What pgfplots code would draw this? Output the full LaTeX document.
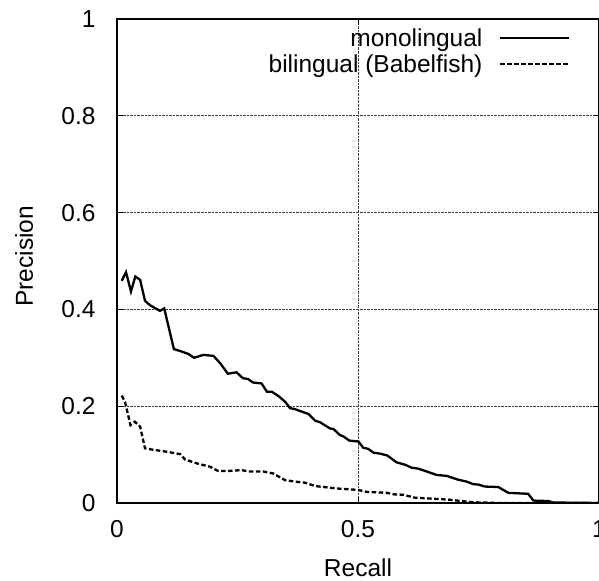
\documentclass[border=0pt]{standalone}
\usepackage{fontspec}
\setmainfont{Liberation Sans}
\usepackage{pgfplots}
\pgfplotsset{compat=1.18}
\pgfplotstableread{
x y
0.0098 0.459
0.0187 0.477
0.029 0.437
0.038 0.468
0.048 0.461
0.058 0.418
0.068 0.409
0.089 0.397
0.098 0.402
0.118 0.318
0.134 0.313
0.148 0.308
0.160 0.300
0.179 0.306
0.200 0.304
0.214 0.289
0.230 0.267
0.248 0.270
0.261 0.258
0.272 0.256
0.282 0.249
0.300 0.247
0.311 0.230
0.321 0.230
0.335 0.221
0.349 0.209
0.359 0.196
0.369 0.194
0.380 0.190
0.397 0.184
0.411 0.170
0.421 0.167
0.442 0.154
0.449 0.153
0.463 0.140
0.469 0.138
0.482 0.129
0.501 0.127
0.511 0.114
0.521 0.112
0.532 0.104
0.546 0.102
0.561 0.098
0.580 0.084
0.598 0.079
0.611 0.073
0.625 0.071
0.643 0.065
0.663 0.058
0.684 0.056
0.705 0.049
0.726 0.044
0.739 0.039
0.750 0.038
0.763 0.034
0.791 0.033
0.812 0.021
0.853 0.019
0.864 0.005
0.895 0.004
0.905 0.001
1.0 0.0
}\mono
\pgfplotstableread{
x y
0.0098 0.222
0.0166 0.209
0.028 0.161
0.037 0.168
0.048 0.158
0.058 0.113
0.075 0.110
0.103 0.106
0.131 0.101
0.141 0.090
0.165 0.082
0.193 0.075
0.210 0.066
0.228 0.066
0.259 0.068
0.272 0.065
0.304 0.065
0.324 0.061
0.349 0.047
0.380 0.043
0.390 0.042
0.411 0.035
0.456 0.030
0.501 0.027
0.518 0.023
0.560 0.021
0.573 0.018
0.594 0.017
0.618 0.011
0.687 0.007
0.739 0.0015
0.795 0.0
1.0 0.0
}\bili
\begin{document}
\begin{tikzpicture}
\begin{axis}[
  at={(0,0)}, anchor=south west,
  scale only axis, width=482bp, height=484bp,
  xmin=0, xmax=1, ymin=0, ymax=1,
  xtick={0,0.5,1}, xticklabels={0,0.5,1},
  ytick={0,0.2,0.4,0.6,0.8,1}, yticklabels={0,0.2,0.4,0.6,0.8,1},
  tick align=inside, tick pos=both, major tick length=6bp,
  tick style={black, line width=0.8bp},
  grid=major,
  grid style={densely dotted, black!75, line width=0.6bp},
  axis line style={black, line width=1.3bp},
  /pgf/number format/assume math mode=true,
  tick label style={font=\fontsize{24.5bp}{28bp}\selectfont},
  yticklabel style={xshift=-18bp},
  xticklabel style={yshift=-14bp},
  xlabel={Recall}, ylabel={Precision},
  every axis x label/.style={at={(axis description cs:0.5,0)}, yshift=-65bp, anchor=center, font=\fontsize{24.5bp}{28bp}\selectfont},
  every axis y label/.style={at={(axis description cs:0,0.51)}, xshift=-93bp, rotate=90, anchor=center, font=\fontsize{24.5bp}{28bp}\selectfont},
  legend plot pos=right,
  legend cell align=right,
  legend style={draw=none, fill=none, at={(axis description cs:0.941,0.985)}, anchor=north east,
    font=\fontsize{24.5bp}{28bp}\selectfont, inner sep=0pt, row sep=3bp,
    /tikz/every odd column/.append style={column sep=15bp}},
  legend image code/.code={\draw[#1, line width=1.9bp] (0bp,0bp) -- (69bp,0bp);},
]
\addplot[black, line width=2.3bp, no marks] table {\mono};
\addlegendentry{monolingual}
\addplot[black, line width=2.3bp, dash pattern=on 4.5bp off 2.5bp, no marks] table {\bili};
\addlegendentry{bilingual (Babelfish)}
\end{axis}
\pgfresetboundingbox
\useasboundingbox (-117bp,-78bp) rectangle (482bp,503bp);
\end{tikzpicture}
\end{document}
